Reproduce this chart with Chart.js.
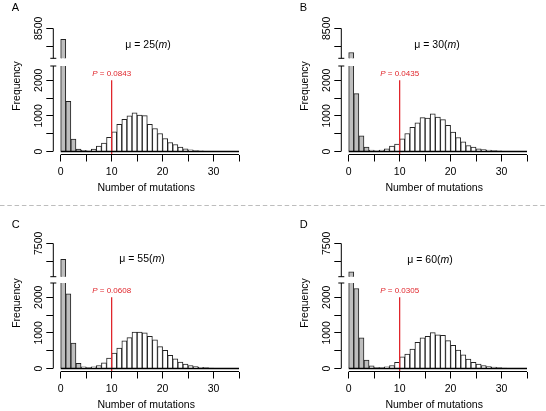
<!DOCTYPE html>
<html>
<head>
<meta charset="utf-8">
<script src="https://cdn.jsdelivr.net/npm/chart.js@4.4.1/dist/chart.umd.min.js"></script>
<style>
  body { margin: 0; background: #fff; }
  #page { position: relative; width: 546px; height: 411px; overflow: hidden; }
  .panel { position: absolute; width: 258px; height: 205px; }
  .panel canvas, #sep { position: absolute; left: 0; top: 0; }
</style>
</head>
<body>
<div id="page">
  <canvas id="sep" width="546" height="3" style="top:204px"></canvas>
</div>
<script>
// histogram bins: each bar covers [start, start + 1)
const binStart = [0, 1, 2, 3, 4, 5, 6, 7, 8, 9, 10, 11, 12, 13, 14, 15, 16, 17,
  18, 19, 20, 21, 22, 23, 24, 25, 26, 27, 28, 29, 30, 31, 32, 33, 34];
const xTickValues = [0, 5, 10, 15, 20, 25, 30, 35];
const xTickLabels = [0, 10, 20, 30];
const lowerTicks = [0, 500, 1000, 1500, 2000];
const lowerLabels = [0, 1000, 2000];
const lowerRange = [-84, 2400];

const panelLetters = ['A', 'B', 'C', 'D'];
const muValues = ['25', '30', '55', '60'];
const pValues = ['0.0843', '0.0435', '0.0608', '0.0305'];
const cutoff = 10;
const cutoffTop = 2000;
const pLabelAt = 2180;

// gray bars = bins 0-3, white bars = bins 4-34
const grayA = [8190, 1410, 346, 65];
const whiteA = [30, 20, 65, 150, 240, 400, 550, 760, 906, 1000, 1084, 1019, 1009, 766, 645, 505,
  364, 252, 196, 121, 75, 47, 28, 18, 12, 8, 5, 3, 2, 1, 1];
const grayB = [7822, 1626, 439, 121];
const whiteB = [37, 19, 37, 75, 150, 206, 355, 505, 682, 804, 953, 935, 1056, 963, 897, 738,
  542, 393, 271, 168, 121, 75, 56, 37, 28, 20, 12, 8, 5, 3, 2];
const grayC = [7049, 2094, 717, 142];
const whiteC = [47, 28, 47, 85, 160, 292, 434, 575, 774, 868, 1019, 1019, 1000, 906, 802, 613,
  509, 368, 274, 179, 123, 85, 57, 35, 25, 15, 10, 6, 4, 2, 1];
const grayD = [6700, 2245, 858, 236];
const whiteD = [75, 28, 28, 47, 85, 170, 330, 406, 547, 736, 858, 906, 1009, 943, 934, 783,
  651, 519, 387, 264, 170, 123, 85, 57, 38, 25, 15, 9, 5, 3, 2];

const upperTicksAB = [8000, 8500];
const upperLabelAB = 8500;
const upperRangeAB = [7658, 8500];
const upperTicksCD = [7000, 7500];
const upperLabelCD = 7500;
const upperRangeCD = [6562, 7500];

const FONT = "'Liberation Sans', Arial, Helvetica, sans-serif";
const RED = '#e0262c';
const GRAY = '#bebebe';

// placement of each panel on the page
const panels = [
  { left: 0,   top: 0,   gray: grayA, white: whiteA, uTicks: upperTicksAB, uLabel: upperLabelAB, uRange: upperRangeAB, uTop: 28.3, uBottom: 58.3, muX: 148, muY: 45 },
  { left: 288, top: 0,   gray: grayB, white: whiteB, uTicks: upperTicksAB, uLabel: upperLabelAB, uRange: upperRangeAB, uTop: 28.3, uBottom: 58.3, muX: 149, muY: 45 },
  { left: 0,   top: 217, gray: grayC, white: whiteC, uTicks: upperTicksCD, uLabel: upperLabelCD, uRange: upperRangeCD, uTop: 26.3, uBottom: 59.7, muX: 142, muY: 42.5 },
  { left: 288, top: 217, gray: grayD, white: whiteD, uTicks: upperTicksCD, uLabel: upperLabelCD, uRange: upperRangeCD, uTop: 26.3, uBottom: 59.7, muX: 142, muY: 43 }
];

const PANEL_W = 258, PANEL_H = 205;
const AXIS_X = 53.3;      // y axis line
const LOWER_TOP = 66;     // top of lower y axis
const X_AXIS_Y = 154.5;   // x axis line
const X_AXIS_H = 45;
const X_MIN = -1.45, X_MAX = 35;
const PLOT_RIGHT = 239;

function toPoints(values, first) {
  return values.map((v, i) => ({ x: binStart[first + i] + 0.5, y: v }));
}

function drawRich(ctx, parts, cx, cy, size, color) {
  let total = 0;
  parts.forEach(p => { ctx.font = `${p[1]}${size}px ${FONT}`; total += ctx.measureText(p[0]).width; });
  let x = cx - total / 2;
  ctx.fillStyle = color;
  ctx.textAlign = 'left';
  ctx.textBaseline = 'middle';
  parts.forEach(p => {
    ctx.font = `${p[1]}${size}px ${FONT}`;
    ctx.fillText(p[0], x, cy);
    x += ctx.measureText(p[0]).width;
  });
}

// R-style axis lines that stop at the first/last tick, with break caps
const rAxes = {
  id: 'rAxes',
  afterDatasetsDraw(chart, args, o) {
    const ctx = chart.ctx, xs = chart.scales.x, ys = chart.scales.y, a = chart.chartArea;
    ctx.save();
    ctx.strokeStyle = '#000';
    if (o.part === 'lower') {
      const y0 = ys.getPixelForValue(0);
      ctx.lineWidth = 1.4;
      ctx.beginPath();
      ctx.moveTo(xs.getPixelForValue(binStart[0]), y0);
      ctx.lineTo(xs.getPixelForValue(X_MAX), y0);
      ctx.stroke();
    }
    ctx.lineWidth = 1;
    ctx.beginPath();
    if (o.part === 'lower') {
      ctx.moveTo(a.left, ys.getPixelForValue(0));
      ctx.lineTo(a.left, a.top);
      ctx.moveTo(a.left - 3, a.top);
      ctx.lineTo(a.left + 3, a.top);
      ctx.moveTo(xs.getPixelForValue(0), a.bottom);
      ctx.lineTo(xs.getPixelForValue(X_MAX), a.bottom);
    } else {
      ctx.moveTo(a.left, a.top);
      ctx.lineTo(a.left, a.bottom);
      ctx.moveTo(a.left - 3, a.bottom);
      ctx.lineTo(a.left + 3, a.bottom);
    }
    ctx.stroke();
    ctx.restore();
  }
};

const panelText = {
  id: 'panelText',
  afterDraw(chart, args, o) {
    if (!o.letter) return;
    const ctx = chart.ctx, xs = chart.scales.x, ys = chart.scales.y;
    ctx.save();
    ctx.fillStyle = '#000';
    ctx.font = `11px ${FONT}`;
    ctx.textAlign = 'left';
    ctx.textBaseline = 'alphabetic';
    ctx.fillText(o.letter, 11.7, 11.3);

    ctx.save();
    ctx.translate(17.5, 86);
    ctx.rotate(-Math.PI / 2);
    ctx.font = `10.5px ${FONT}`;
    ctx.textAlign = 'center';
    ctx.textBaseline = 'middle';
    ctx.fillText('Frequency', 0, 0);
    ctx.restore();

    drawRich(ctx, [['\u03bc = ' + o.mu + '(', ''], ['m', 'italic '], [')', '']], o.muX, o.muY, 10.5, '#000');
    drawRich(ctx, [['P', 'italic '], [' = ' + o.p, '']], xs.getPixelForValue(cutoff), ys.getPixelForValue(pLabelAt), 8, RED);
    ctx.restore();
  }
};

function barDatasets(p) {
  const common = {
    type: 'bar', borderColor: '#222', borderWidth: 1, borderSkipped: 'start',
    barPercentage: 1, categoryPercentage: 1, grouped: false, clip: 0, order: 2
  };
  return [
    Object.assign({ data: toPoints(p.gray, 0), backgroundColor: GRAY }, common),
    Object.assign({ data: toPoints(p.white, p.gray.length), backgroundColor: '#fff' }, common)
  ];
}

function xScale(show) {
  return {
    type: 'linear', min: X_MIN, max: X_MAX, offset: false, display: show,
    afterBuildTicks: s => { s.ticks = xTickValues.map(v => ({ value: v })); },
    afterFit: s => { s.height = show ? X_AXIS_H : 0; },
    grid: { offset: false, drawOnChartArea: false, drawTicks: true, tickLength: 7, tickColor: '#000', tickWidth: 1 },
    border: { display: false },
    ticks: {
      autoSkip: false, maxRotation: 0, padding: 4, color: '#000', font: { size: 10.5, family: FONT },
      callback: v => xTickLabels.includes(v) ? String(v) : ''
    },
    title: { display: show, text: 'Number of mutations', color: '#000', font: { size: 10.5, family: FONT }, padding: { top: 0, bottom: 5 } }
  };
}

function yScale(range, tickValues, labels) {
  return {
    type: 'linear', min: range[0], max: range[1],
    afterBuildTicks: s => { s.ticks = tickValues.map(v => ({ value: v })); },
    afterFit: s => { s.width = AXIS_X; },
    grid: { drawOnChartArea: false, drawTicks: true, tickLength: 7, tickColor: '#000', tickWidth: 1 },
    border: { display: false },
    ticks: {
      autoSkip: false, minRotation: 90, maxRotation: 90, crossAlign: 'center', padding: -4.4,
      color: '#000', font: { size: 10.5, family: FONT },
      callback: v => labels.includes(v) ? String(v) : ''
    }
  };
}

function makePanel(p, k) {
  const box = document.createElement('div');
  box.className = 'panel';
  box.style.left = p.left + 'px';
  box.style.top = p.top + 'px';
  const lowerCanvas = document.createElement('canvas');
  const upperCanvas = document.createElement('canvas');
  [lowerCanvas, upperCanvas].forEach(c => { c.width = PANEL_W; c.height = PANEL_H; box.appendChild(c); });
  document.getElementById('page').appendChild(box);

  new Chart(lowerCanvas, {
    data: {
      datasets: barDatasets(p).concat([{
        type: 'line', data: [{ x: cutoff, y: cutoffTop }, { x: cutoff, y: lowerRange[0] }],
        borderColor: RED, borderWidth: 1.3, pointRadius: 0, order: 0, clip: 0
      }])
    },
    options: {
      responsive: false, animation: false, devicePixelRatio: 1,
      layout: { padding: { left: 0, top: LOWER_TOP, right: PANEL_W - PLOT_RIGHT, bottom: PANEL_H - X_AXIS_Y - X_AXIS_H } },
      scales: { x: xScale(true), y: yScale(lowerRange, lowerTicks, lowerLabels) },
      plugins: {
        legend: { display: false }, tooltip: { enabled: false },
        rAxes: { part: 'lower' },
        panelText: { letter: panelLetters[k], mu: muValues[k], p: pValues[k], muX: p.muX, muY: p.muY }
      }
    },
    plugins: [rAxes, panelText]
  });

  new Chart(upperCanvas, {
    data: { datasets: barDatasets(p) },
    options: {
      responsive: false, animation: false, devicePixelRatio: 1,
      layout: { padding: { left: 0, top: p.uTop, right: PANEL_W - PLOT_RIGHT, bottom: PANEL_H - p.uBottom } },
      scales: { x: xScale(false), y: yScale(p.uRange, p.uTicks, [p.uLabel]) },
      plugins: { legend: { display: false }, tooltip: { enabled: false }, rAxes: { part: 'upper' } }
    },
    plugins: [rAxes]
  });
}

panels.forEach(makePanel);

// dashed divider between the two rows
const sep = document.getElementById('sep').getContext('2d');
sep.strokeStyle = '#bdbdbd';
sep.lineWidth = 1;
sep.setLineDash([4.5, 2.8]);
sep.beginPath();
sep.moveTo(0, 1.5);
sep.lineTo(546, 1.5);
sep.stroke();
</script>
</body>
</html>
